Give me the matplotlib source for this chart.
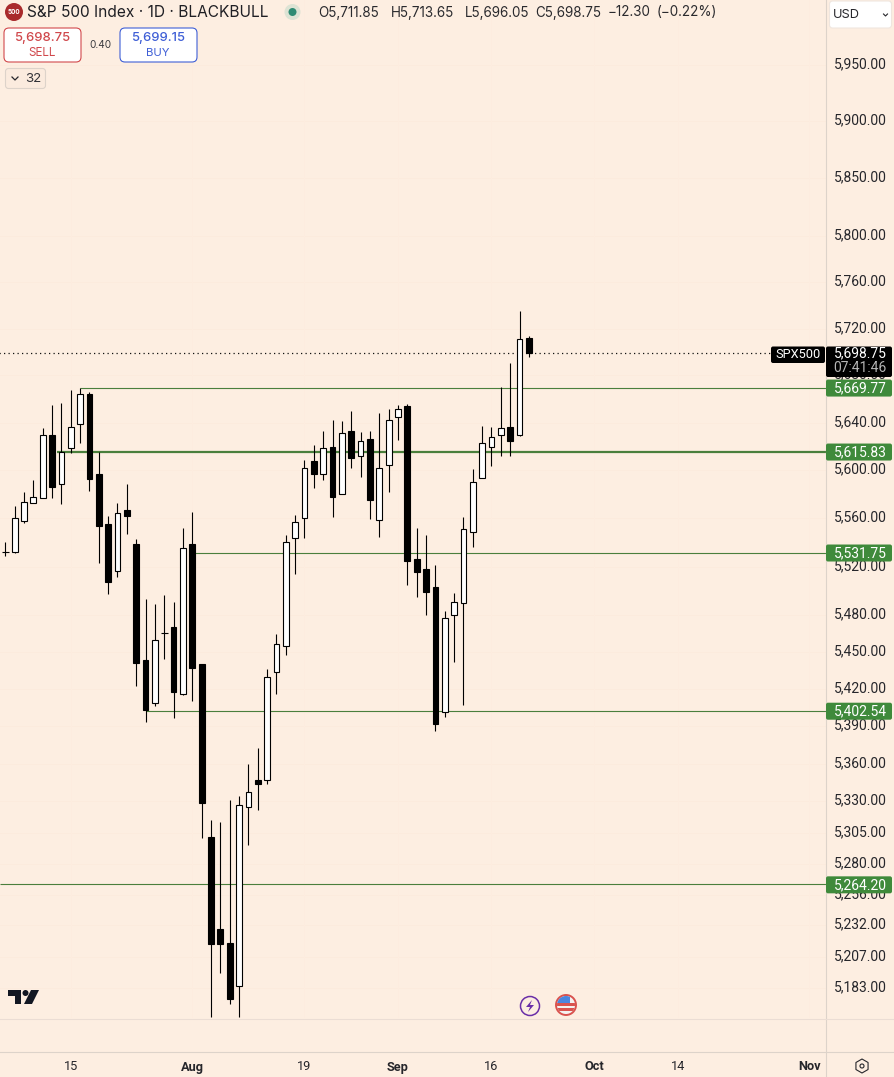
import matplotlib
matplotlib.use("Agg")
import matplotlib.pyplot as plt
from matplotlib.patches import FancyBboxPatch, Circle, Polygon, Rectangle, RegularPolygon

plt.rcParams['font.family'] = ['Inter', 'DejaVu Sans']

opens = [5532.0,5532.2,5557.8,5573.0,5577.0,5629.5,5588.9,5619.1,5639.3,5663.9,5596.7,5555.0,5516.5,5567.4,5538.5,5443.4,5408.9,5466.0,5470.3,5416.1,
         5538.5,5440.1,5301.3,5229.0,5218.0,5184.8,5325.6,5346.6,5346.6,5433.7,5455.0,5544.0,5560.6,5607.6,5597.3,5619.4,5580.5,5633.4,5612.4,5626.7,
         5558.9,5604.8,5645.2,5653.8,5526.7,5518.5,5503.6,5401.7,5480.6,5490.4,5549.0,5593.9,5620.0,5630.0,5636.8,5630.0,5711.85]
highs = [5540.2,5570.7,5582.4,5591.7,5635.9,5654.7,5656.3,5667.3,5669.6,5666.2,5615.4,5561.7,5573.2,5588.3,5542.7,5493.1,5489.0,5496.4,5490.7,5552.3,
         5565.5,5440.1,5314.8,5313.2,5331.2,5334.4,5360.0,5372.3,5436.5,5464.6,5546.5,5563.0,5608.5,5621.0,5633.4,5642.6,5641.8,5650.2,5632.0,5633.4,
         5647.9,5651.3,5654.7,5655.5,5552.3,5546.5,5521.6,5483.9,5498.7,5561.4,5600.9,5637.0,5636.2,5670.5,5690.3,5734.6,5713.65]
lows = [5528.9,5531.1,5555.9,5573.0,5577.0,5576.8,5571.6,5614.6,5623.0,5582.7,5523.1,5497.5,5511.5,5546.8,5422.4,5393.4,5406.2,5444.4,5396.6,5415.0,
        5410.2,5300.6,5160.8,5194.9,5170.8,5160.8,5295.0,5322.9,5343.9,5415.9,5447.7,5514.0,5543.7,5585.2,5591.9,5561.0,5580.5,5601.7,5594.4,5559.4,
        5544.6,5581.8,5625.5,5504.9,5495.0,5480.3,5386.2,5397.4,5442.0,5407.3,5536.3,5593.9,5603.7,5612.1,5612.1,5628.8,5696.05]
closes = [5532.4,5560.6,5573.8,5577.8,5630.0,5586.0,5615.8,5636.8,5664.5,5592.8,5553.7,5507.4,5564.7,5561.9,5441.2,5403.0,5460.3,5466.3,5417.5,5535.1,
          5437.1,5328.5,5217.5,5217.5,5174.6,5327.2,5337.6,5343.9,5430.0,5457.0,5540.8,5557.3,5602.3,5597.0,5619.1,5577.6,5631.7,5610.4,5625.0,5575.1,
          5602.3,5642.6,5651.9,5524.7,5515.6,5499.2,5391.8,5478.2,5491.2,5551.5,5590.6,5623.3,5628.4,5635.9,5624.7,5711.3,5698.75]

price_ticks = [5950,5900,5850,5800,5760,5720,5680,5640,5600,5560,5520,5480,5450,5420,5390,5360,5330,5305,5280,5256,5232,5207,5183]
level_values = [5669.77,5615.83,5531.75,5402.54,5264.20]
level_starts = [8,5.5,19.7,15,-0.6]
level_widths = [1,2,1,1,1]
time_pos = [7,20,32,42,52,63,72,86]
time_labels = ['15','Aug','19','Sep','16','Oct','14','Nov']
time_bold = ['Aug','Sep','Oct','Nov']
last_price = 5698.75
ohlc_texts = ['O5,711.85','H5,713.65','L5,696.05','C5,698.75','−12.30','(−0.22%)']
ohlc_x = [318,391,465,535,608,657]

BG = '#FDEEE1'
GREEN = '#4A7F3C'
LABEL_GREEN = '#3F8A3B'
AXIS = '#DDD3CA'
TXT = '#26262B'
NUM = ['Roboto', 'DejaVu Sans']

W, H = 895, 1077
fig = plt.figure(figsize=(W/100, H/100), dpi=100, facecolor=BG)

ax = fig.add_axes([0, 1-1017.5/H, 826/W, 1018/H], facecolor=BG)
ax.set_yscale('log')
ax.set_ylim(5160.5, 6008.2)
ax.set_xlim(-5.3/9.35, (826-5.3)/9.35)
ax.axis('off')

xs = list(range(len(opens)))
ax.hlines(price_ticks, -1, 100, color='#FCEBDD', lw=0.72, zorder=1)
ax.vlines(time_pos, 5160.5, 6008.2, color='#FDECDF', lw=0.72, zorder=1)

for v, s, w in zip(level_values, level_starts, level_widths):
    ax.hlines(v, s, 100, color=GREEN, lw=w*0.8, zorder=2)
ax.hlines(last_price, -1, 100, color='#111111', lw=0.9, linestyles=(0, (1, 2.6)), zorder=2)

ax.vlines(xs, lows, highs, color='black', lw=0.8, zorder=3)
tops = [max(o, c) for o, c in zip(opens, closes)]
bots = [min(o, c) for o, c in zip(opens, closes)]
for x, o, c, t, b in zip(xs, opens, closes, tops, bots):
    if abs(t-b) < 1:
        ax.hlines(o, x-0.37, x+0.37, color='black', lw=0.8, zorder=4)
        continue
    up = c > o
    ax.bar(x, t-b, bottom=b, width=0.62, facecolor='white' if up else 'black',
           edgecolor='black', linewidth=0.8, zorder=4)

ov = fig.add_axes([0, 0, 1, 1], facecolor='none')
ov.set_xlim(0, W); ov.set_ylim(H, 0); ov.axis('off')

ov.plot([826, 826], [0, 1077], color=AXIS, lw=0.8, zorder=1)
ov.plot([0, 895], [1018.5, 1018.5], color='#EBDDD4', lw=0.8, zorder=1)
ov.plot([0, 895], [1052, 1052], color=AXIS, lw=0.8, zorder=1)

def to_y(p):
    _, y = ax.transData.transform((0, p))
    return H - y + 0.5

FS = 10.0
for p in price_ticks:
    ov.text(887, to_y(p)-1.2, f'{p:,.2f}', ha='right', va='center', fontsize=FS, color=TXT, zorder=2, family=NUM)

def rbox(x, y, w, h, fc, ec='none', r=3, lw=0.8, z=5):
    ov.add_patch(FancyBboxPatch((x+r, y+r), w-2*r, h-2*r, boxstyle=f'round,pad={r},rounding_size={r}',
                                fc=fc, ec=ec, lw=lw, zorder=z))

for v in level_values:
    y = to_y(v)
    rbox(826, y-8.5, 66, 17, LABEL_GREEN, r=2)
    ov.text(887, y, f'{v:,.2f}', ha='right', va='center', fontsize=FS, color='white', zorder=6, family=NUM)

rbox(771, 346.5, 54, 16.5, 'black', r=2)
ov.text(798, 354.5, 'SPX500', ha='center', va='center', fontsize=9.2, color='white', zorder=6, family=NUM)
rbox(826, 346.5, 66, 30.5, 'black', r=2)
ov.text(887, 353.7, f'{last_price:,.2f}', ha='right', va='center', fontsize=FS, color='white', zorder=6, family=NUM)
ov.text(887, 367.5, '07:41:46', ha='right', va='center', fontsize=FS, color='#B5B5B5', zorder=6, family=NUM)

for t, lab in zip(time_pos, time_labels):
    px, _ = ax.transData.transform((t, 5200))
    ov.text(px, 1067, lab, ha='center', va='center', fontsize=9.2, color=TXT, family=NUM,
            fontweight='bold' if lab in time_bold else 'normal')

# header
ov.add_patch(Circle((14, 12), 9, fc='#A92A2C', ec='none'))
ov.text(14, 12.3, '500', ha='center', va='center', fontsize=4.6, color='white', fontweight='bold')
ov.text(27, 12.5, 'S&P 500 Index · 1D · BLACKBULL', ha='left', va='center', fontsize=11.15, color='#1F1F24')
ov.add_patch(Circle((292.5, 12), 8, fc='#DDE3D4', ec='none'))
ov.add_patch(Circle((292.5, 12), 4, fc='#2E8B73', ec='none'))
for s, x in zip(ohlc_texts, ohlc_x):
    ov.text(x, 12.5, s, ha='left', va='center', fontsize=9.7, color='#2A2A2E')

rbox(4, 28, 77, 34, 'white', ec='#D2494C', r=5, z=3)
ov.text(42.5, 38.5, '5,698.75', ha='center', va='center', fontsize=9.4, color='#D0484C', fontweight='medium', zorder=4)
ov.text(42.5, 53, 'SELL', ha='center', va='center', fontsize=8.4, color='#D0484C', zorder=4)
ov.text(100, 45, '0.40', ha='center', va='center', fontsize=7.2, color='#3A3A3E')
rbox(120, 28, 77, 34, 'white', ec='#3F5FD6', r=5, z=3)
ov.text(158, 38.5, '5,699.15', ha='center', va='center', fontsize=9.4, color='#3F5FD6', fontweight='medium', zorder=4)
ov.text(158, 53, 'BUY', ha='center', va='center', fontsize=8.2, color='#3F5FD6', zorder=4)

rbox(5.5, 68.5, 40, 20, '#FBEBDE', ec='#DDD3CA', r=3, z=3)
ov.plot([12, 15, 18], [77, 80, 77], color='#26262B', lw=0.9, zorder=4)
ov.text(33, 79.5, '32', ha='center', va='center', fontsize=9.6, color='#333338', zorder=4)

rbox(829.5, 1, 62, 27, 'white', ec='#EFE6DF', r=3, z=3)
ov.text(833, 14.5, 'USD', ha='left', va='center', fontsize=9.2, color='#26262B', zorder=4)
ov.plot([883.5, 885.5, 887.5], [14, 16, 14], color='#26262B', lw=0.8, zorder=4)

# TradingView mark
ov.add_patch(Polygon([(8, 990), (21, 990), (21, 1004), (15, 1004), (15, 996), (8, 996)], fc='#131722', ec='none'))
ov.add_patch(Circle((25.5, 993), 3, fc='#131722', ec='none'))
ov.add_patch(Polygon([(31, 990), (39, 990), (32, 1004), (24, 1004)], fc='#131722', ec='none'))

# event badges
ov.add_patch(Circle((530, 1006), 9.5, fc='#FDEEE1', ec='#6A2FA8', lw=1.1))
ov.add_patch(Polygon([(532, 1000), (526, 1007), (530, 1007), (528, 1012), (534, 1005), (530, 1005)], fc='#6A2FA8', ec='none'))
ov.add_patch(Circle((566, 1005), 10, fc='#F4F2F0', ec='#D9534F', lw=1.4))
clip = Circle((566, 1005), 9, transform=ov.transData)
for rect in [Rectangle((556, 1003), 20, 2.5, fc='#D9534F', ec='none', zorder=3),
             Rectangle((556, 1008), 20, 3, fc='#D9534F', ec='none', zorder=3),
             Rectangle((556, 995), 14, 8, fc='#4A86E0', ec='none', zorder=4)]:
    ov.add_patch(rect)
    rect.set_clip_path(clip)

# settings gear
ov.add_patch(RegularPolygon((862, 1066), 6, radius=7, fc='none', ec='#26262B', lw=0.8))
ov.add_patch(Circle((862, 1066), 2, fc='none', ec='#26262B', lw=0.8))

fig.savefig('out.png', dpi=100, facecolor=BG)
